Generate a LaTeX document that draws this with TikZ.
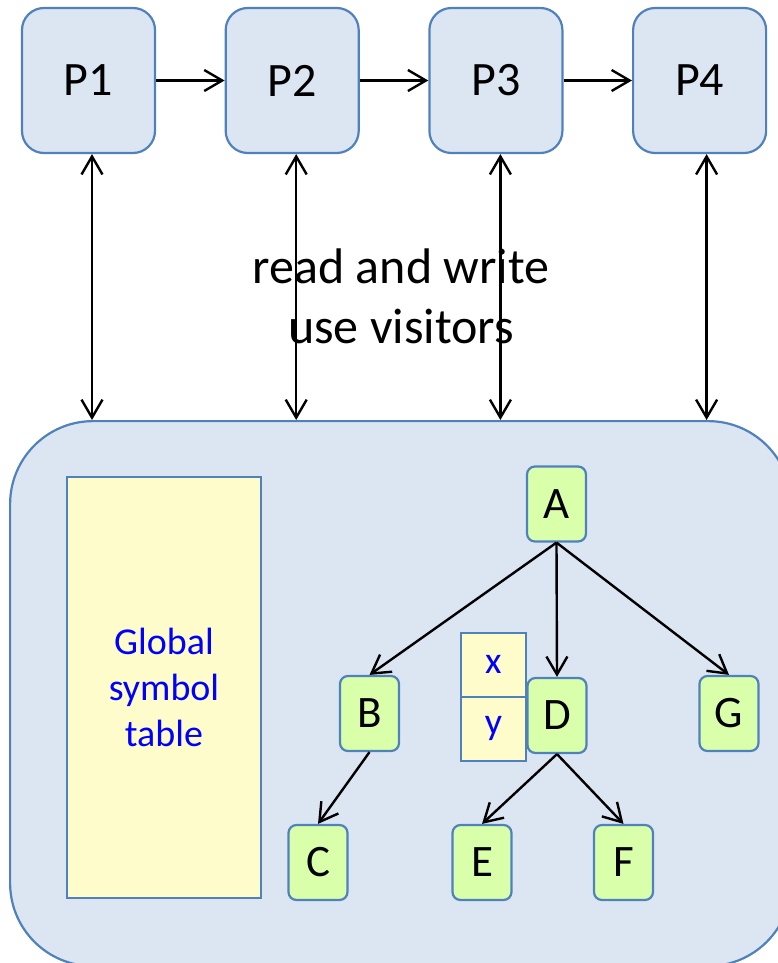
\documentclass[tikz,border=0pt]{standalone}
\usepackage{fontspec}
\setmainfont{Carlito}
\usetikzlibrary{arrows.meta, positioning, calc}
\definecolor{boxfill}{RGB}{220,230,242}
\definecolor{boxline}{RGB}{79,129,189}
\definecolor{treefill}{RGB}{217,255,170}
\definecolor{tablefill}{RGB}{255,252,204}

\begin{document}
\begin{tikzpicture}
            [x=1pt, y=-1pt, line width=2.2pt, node distance=68.5pt,
            >={Straight Barb[length=18pt, width=21pt]},
            link/.style={->, line width=2.4pt},
            pass/.style={rectangle, rounded corners=22pt, draw=boxline, fill=boxfill,
                minimum width=133pt, minimum height=145pt, inner sep=0pt,
                font=\fontsize{48}{58}\selectfont},
            treenode/.style={rectangle, rounded corners=8pt, draw=boxline, fill=treefill,
                minimum width=59pt, minimum height=75pt, inner sep=0pt,
                font=\fontsize{45}{52}\selectfont},
            cell/.style={rectangle, draw=boxline, fill=tablefill, text=blue,
                minimum width=65pt, minimum height=64pt, inner sep=0pt,
                font=\fontsize{38}{44}\selectfont}]

            \useasboundingbox (0,0) rectangle (778,963);
            \clip (0,0) rectangle (778,963);

            % shared storage
            \node[rectangle, rounded corners=83pt, draw=boxline, fill=boxfill,
                minimum width=781pt, minimum height=545pt, anchor=north west] (store) at (9,420) {};

            % passes
            \node[pass] (P1) at (88.5,80.5) {P1};
            \node[pass] (P2) [right = of P1] {P2};
            \node[pass] (P3) [right = of P2] {P3};
            \node[pass] (P4) [right = of P3] {P4};

            \draw[link] (P1) -- (P2);
            \draw[link] (P2) -- (P3);
            \draw[link] (P3) -- (P4);

            \foreach \p/\dx in {P1/3.5, P2/4, P3/4.5, P4/7}
                \draw[<->, line width=2.4pt] ([xshift=\dx pt]\p.south) -- ([xshift=\dx pt]\p.south |- store.north);

            \node[align=center, font=\fontsize{50}{60}\selectfont] (note) at (401,296) {read and write\\use visitors};

            % symbol table
            \node[rectangle, draw=boxline, fill=tablefill, text=blue, align=center,
                minimum width=194pt, minimum height=421pt,
                font=\fontsize{38}{46}\selectfont] (symtab) at (164,687.5) {Global\\symbol\\table};

            % tree
            \node[cell, anchor=south east] (xcell) at (527,698) {x};
            \node[cell, below = -2.2pt of xcell] (ycell) {y};

            \node[treenode] (A) at (556.5,504) {A};
            \node[treenode] (B) at (369.5,713.5) {B};
            \node[treenode] (D) at (557,715.5) {D};
            \node[treenode] (G) at (729,713.5) {G};
            \node[treenode] (C) at (318,862.5) {C};
            \node[treenode] (E) at (482,862.5) {E};
            \node[treenode] (F) at (623.5,862.5) {F};

            \draw[link] (A.south) -- (B.north);
            \draw[link] (A.south) -- (D.north);
            \draw[link] (A.south) -- (G.north);
            \draw[link] (B.south) -- (C.north);
            \draw[link] (D.south) -- (E.north);
            \draw[link] (D.south) -- (F.north);
        \end{tikzpicture}
\end{document}
